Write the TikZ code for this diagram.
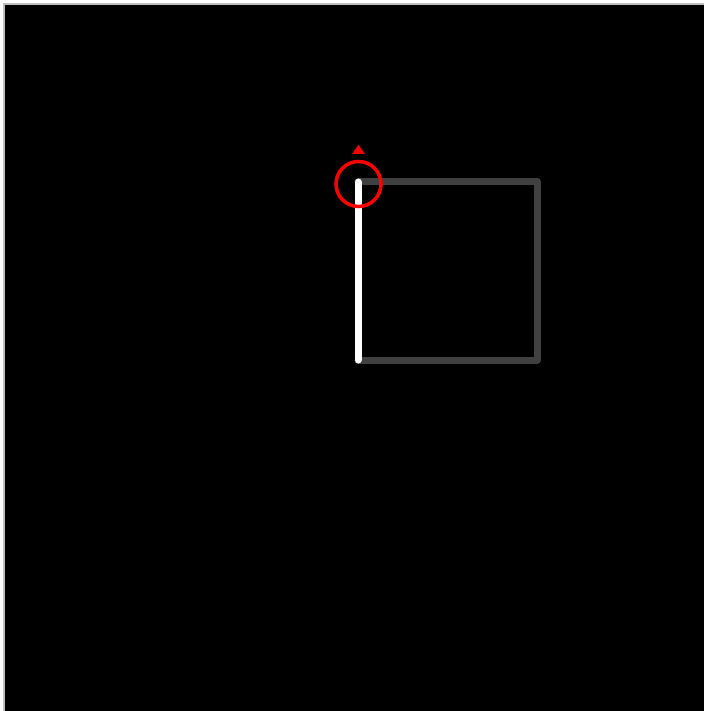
\documentclass[tikz,border=0pt]{standalone}
\begin{document}
\begin{tikzpicture}[x=1pt,y=-1pt,
  edge/.style={line width=7pt,line cap=round,line join=round},
  marker/.style={draw=red,line width=3.5pt}]
\useasboundingbox (0,0) rectangle (704,711);
\fill[white] (0,0) rectangle (704,711);
\fill[black!25] (3,3) rectangle (704,711);
\fill[black] (5,5) rectangle (704,711);
\coordinate (p1) at (358,182);
\coordinate (p2) at (537,182);
\coordinate (p3) at (537,360);
\coordinate (p4) at (358,360);
\draw[edge,color={rgb,255:red,64;green,64;blue,64}] (p1) -- (p2) -- (p3) -- (p4);
\draw[edge,white] (p4) -- (p1);
\draw[marker] (358.5,184) circle (22.5);
\fill[red] (358.5,145) -- (365,154) -- (352,154) -- cycle;
\end{tikzpicture}
\end{document}
